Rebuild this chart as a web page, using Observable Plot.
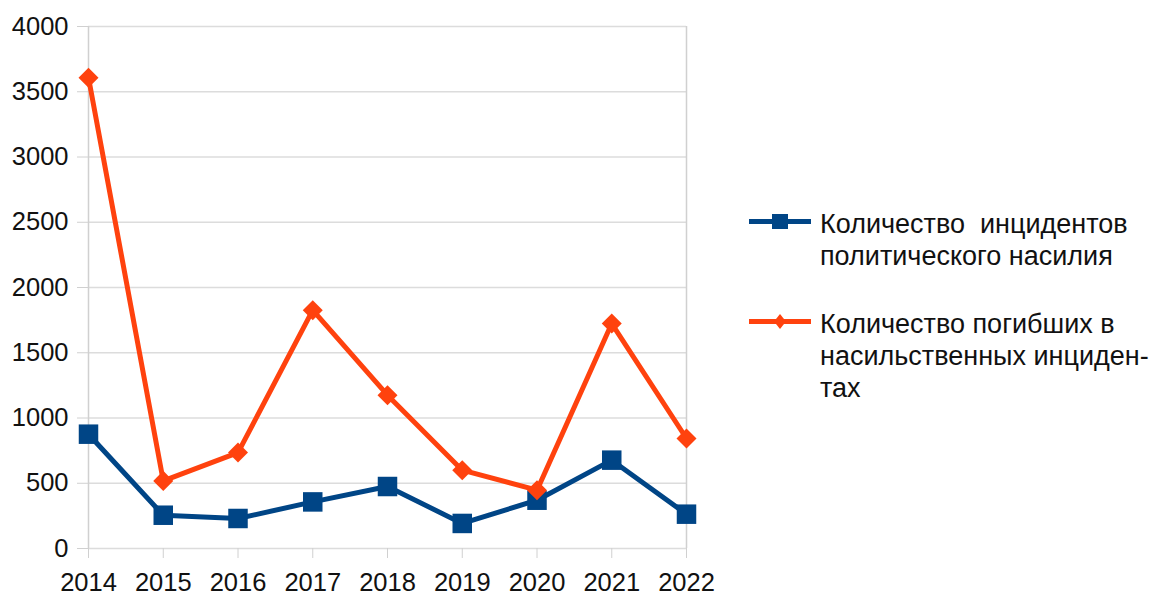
<!DOCTYPE html>
<html>
<head>
<meta charset="utf-8">
<script src="https://cdn.jsdelivr.net/npm/d3@7"></script>
<script src="https://cdn.jsdelivr.net/npm/@observablehq/plot@0.6"></script>
<style>
  html, body { margin: 0; padding: 0; background: #fff; }
  #wrap { position: relative; width: 1150px; height: 595px; font-family: "Liberation Sans", Arial, sans-serif; }
  #legend { position: absolute; left: 749px; top: 0; color: #111; font-size: 27px; line-height: 32px; }
  .entry { position: absolute; left: 0; white-space: nowrap; }
  .entry svg { position: absolute; left: 0; }
  .entry .txt { position: absolute; left: 71px; top: 0; white-space: pre; }
</style>
</head>
<body>
<div id="wrap"></div>
<script>
const years = [2014, 2015, 2016, 2017, 2018, 2019, 2020, 2021, 2022];
const incidents = [876, 255, 230, 357, 475, 192, 370, 677, 263];
const deaths = [3608, 518, 735, 1826, 1175, 600, 447, 1724, 843];
const yTicks = [0, 500, 1000, 1500, 2000, 2500, 3000, 3500, 4000];
const seriesNames = ["Количество  инцидентов\nполитического насилия", "Количество погибших в\nнасильственных инциден-\nтах"];
const colors = ["#004586", "#ff420e"];

const dataA = years.map((y, i) => ({year: y, value: incidents[i]}));
const dataB = years.map((y, i) => ({year: y, value: deaths[i]}));

const chart = Plot.plot({
  width: 1150,
  height: 595,
  marginLeft: 88,
  marginRight: 464,
  marginTop: 26,
  marginBottom: 47,
  style: {fontFamily: "'Liberation Sans', Arial, sans-serif", fontSize: "25.5px", color: "#111", background: "#fff"},
  x: {type: "point", domain: years, padding: 0, round: false},
  y: {domain: [0, 4000]},
  marks: [
    Plot.ruleY(yTicks, {stroke: "#dcdcdc", strokeWidth: 1.5}),
    Plot.ruleX([years[0], years[years.length - 1]], {stroke: "#d0d0d0", strokeWidth: 1.5}),
    Plot.axisY({ticks: yTicks, label: null, tickSize: 11, tickPadding: 9, stroke: "#d0d0d0", tickFormat: d => String(d), fill: "#111", fontSize: 25.5}),
    Plot.axisX({label: null, tickSize: 10, tickPadding: 14, stroke: "#d0d0d0", tickFormat: d => String(d), fill: "#111", fontSize: 25.5}),
    Plot.line(dataA, {x: "year", y: "value", stroke: colors[0], strokeWidth: 5}),
    Plot.dot(dataA, {x: "year", y: "value", symbol: "square", r: 11, fill: colors[0], stroke: "none"}),
    Plot.line(dataB, {x: "year", y: "value", stroke: colors[1], strokeWidth: 5}),
    Plot.dot(dataB, {x: "year", y: "value", symbol: "square", r: 8, rotate: 45, fill: colors[1], stroke: "none"})
  ]
});

const wrap = document.getElementById("wrap");
wrap.appendChild(chart);

const legend = document.createElement("div");
legend.id = "legend";
const tops = [208, 308];
seriesNames.forEach((name, i) => {
  const e = document.createElement("div");
  e.className = "entry";
  e.style.top = tops[i] + "px";
  const marker = i === 0
    ? `<rect x="23" y="6" width="16" height="15" fill="${colors[0]}"/>`
    : `<path d="M31 6 L37 13.5 L31 21 L25 13.5 Z" fill="${colors[1]}"/>`;
  e.innerHTML = `<svg width="64" height="28" style="top:0"><line x1="0" x2="62" y1="13.5" y2="13.5" stroke="${colors[i]}" stroke-width="5"/>${marker}</svg><div class="txt">${name}</div>`;
  legend.appendChild(e);
});
wrap.appendChild(legend);
</script>
</body>
</html>
